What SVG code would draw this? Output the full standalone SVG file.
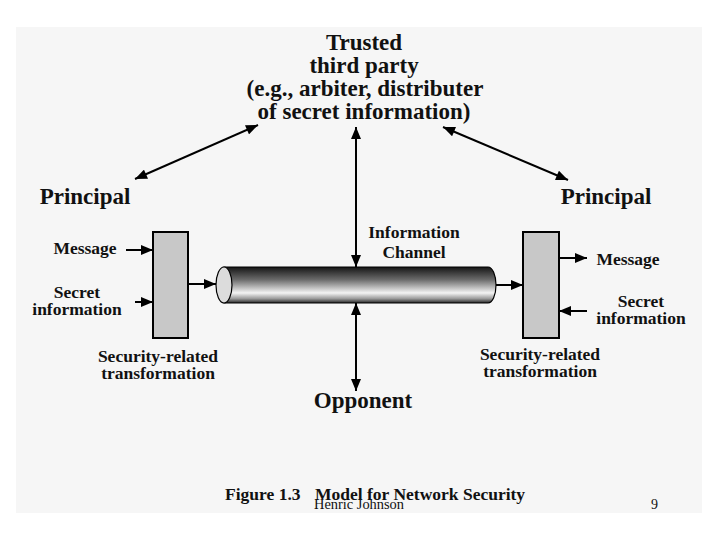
<svg xmlns="http://www.w3.org/2000/svg" width="720" height="540" viewBox="0 0 720 540">
<style>
text{font-family:"Liberation Serif","Times New Roman",serif;font-weight:bold;fill:#111;text-anchor:middle}
.big{font-size:23px}
.sm{font-size:17.5px}
.ln{stroke:#000;stroke-width:2;fill:none}
.box{fill:#c8c8c8;stroke:#000;stroke-width:2}
.foot{font-weight:normal;font-size:14px;text-anchor:start}
</style>
<defs>
<marker id="ah" viewBox="0 0 12 10" refX="12" refY="5" markerWidth="13" markerHeight="10" markerUnits="userSpaceOnUse" orient="auto-start-reverse">
<path d="M0,0 L12,5 L0,10 Z" fill="#000"/>
</marker>
<linearGradient id="cyl" x1="0" y1="0" x2="0" y2="1">
<stop offset="0" stop-color="#151515"/>
<stop offset="0.35" stop-color="#6a6a6a"/>
<stop offset="0.72" stop-color="#f4f4f4"/>
<stop offset="0.88" stop-color="#9a9a9a"/>
<stop offset="1" stop-color="#252525"/>
</linearGradient>
</defs>
<rect x="16" y="27" width="686" height="486" fill="#f6f6f6"/>

<g id="trusted-third-party">
<text class="big" x="364" y="50">Trusted</text>
<text class="big" x="364" y="73">third party</text>
<text class="big" x="365" y="96">(e.g., arbiter, distributer</text>
<text class="big" x="364" y="119">of secret information)</text>
</g>

<g id="principal-left">
<text class="big" x="85" y="204">Principal</text>
</g>
<g id="principal-right">
<text class="big" x="606" y="204">Principal</text>
</g>

<g id="message-left"><text class="sm" x="85" y="254">Message</text></g>
<g id="secret-left"><text class="sm" x="77" y="298">Secret</text><text class="sm" x="77" y="315">information</text></g>
<g id="transform-left">
<rect class="box" x="153" y="232" width="35" height="106"/>
<text class="sm" x="158" y="362">Security-related</text>
<text class="sm" x="158" y="379">transformation</text>
</g>

<g id="channel">
<path d="M224,267 L488,267 A8,18 0 0 1 488,303 L224,303 Z" fill="url(#cyl)" stroke="#000" stroke-width="1.2"/>
<ellipse cx="224" cy="285" rx="8" ry="18" fill="#dcdcdc" stroke="#000" stroke-width="1.2"/>
<text class="sm" x="414" y="238">Information</text>
<text class="sm" x="414" y="258">Channel</text>
</g>

<g id="transform-right">
<rect class="box" x="523" y="232" width="36" height="106"/>
<text class="sm" x="540" y="360">Security-related</text>
<text class="sm" x="540" y="377">transformation</text>
</g>
<g id="message-right"><text class="sm" x="628" y="265">Message</text></g>
<g id="secret-right"><text class="sm" x="641" y="307">Secret</text><text class="sm" x="641" y="324">information</text></g>

<g id="opponent"><text class="big" x="363" y="408">Opponent</text></g>

<g id="connectors">
<line class="ln" x1="135" y1="179" x2="258" y2="125" marker-start="url(#ah)" marker-end="url(#ah)"/>
<line class="ln" x1="443" y1="127" x2="568" y2="180" marker-start="url(#ah)" marker-end="url(#ah)"/>
<line class="ln" x1="356" y1="127" x2="356" y2="267" marker-start="url(#ah)" marker-end="url(#ah)"/>
<line class="ln" x1="356" y1="303" x2="356" y2="391" marker-start="url(#ah)" marker-end="url(#ah)"/>
<line class="ln" x1="126" y1="250" x2="153" y2="250" marker-end="url(#ah)"/>
<line class="ln" x1="135" y1="302" x2="153" y2="302" marker-end="url(#ah)"/>
<line class="ln" x1="188" y1="284" x2="216" y2="284" marker-end="url(#ah)"/>
<line class="ln" x1="496" y1="285" x2="523" y2="285" marker-end="url(#ah)"/>
<line class="ln" x1="559" y1="258" x2="587" y2="258" marker-end="url(#ah)"/>
<line class="ln" x1="587" y1="311" x2="559" y2="311" marker-end="url(#ah)"/>
</g>

<g id="caption">
<text class="sm" x="225" y="500" style="text-anchor:start">Figure 1.3</text>
<text class="sm" x="315" y="500" style="text-anchor:start">Model for Network Security</text>
</g>
<g id="footer">
<text class="foot" x="314" y="509" style="font-stretch:condensed" textLength="90" lengthAdjust="spacingAndGlyphs">Henric Johnson</text>
<text class="foot" x="651" y="509">9</text>
</g>
</svg>
